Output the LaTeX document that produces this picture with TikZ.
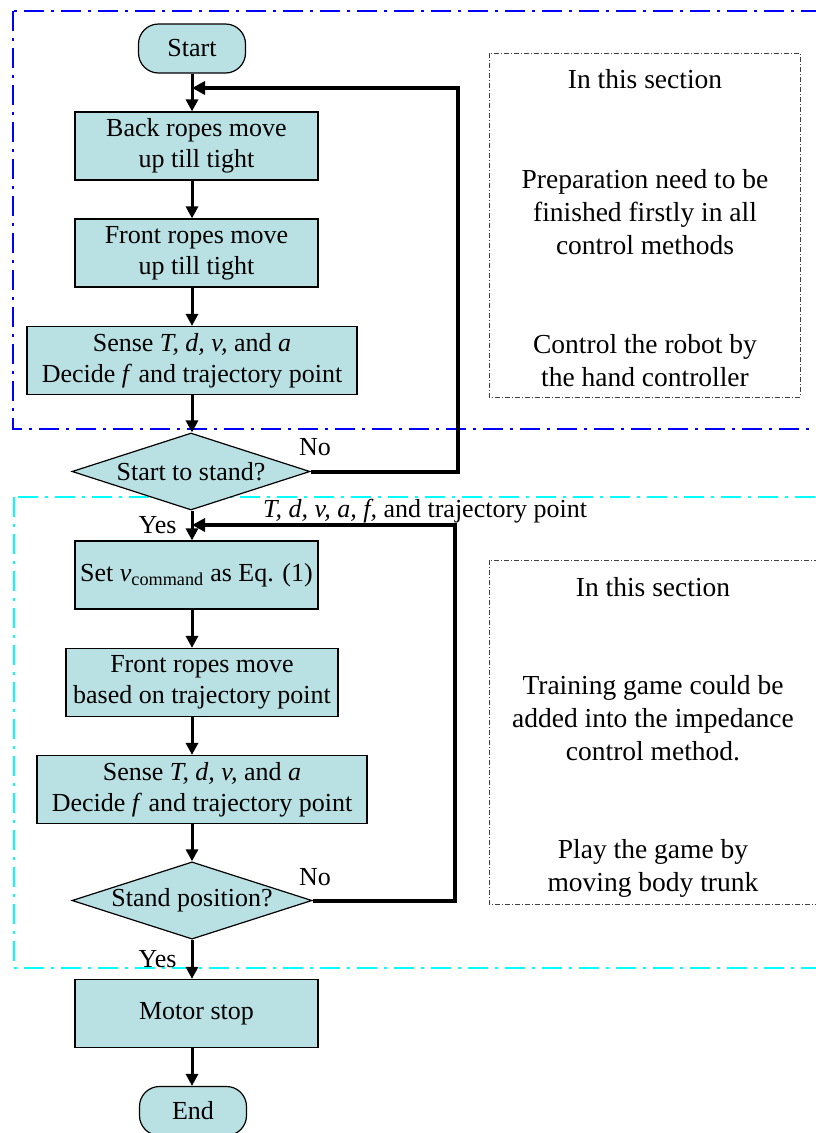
\documentclass[tikz,border=0pt]{standalone}
\usepackage{fontspec}
\setmainfont{Liberation Serif}
\usetikzlibrary{shapes.geometric,arrows.meta}
\definecolor{boxfill}{HTML}{B9E0E3}
\definecolor{cyanline}{RGB}{0,255,255}
\definecolor{blueline}{RGB}{0,0,255}
\begin{document}
\begin{tikzpicture}[x=1pt,y=-1pt,
    main/.style = {draw, line width=1.2pt, fill=boxfill, minimum width=243pt, minimum height=68pt, inner sep=2pt, align=center, font=\fontsize{26}{31}\selectfont},
    term/.style = {main, rounded corners=20pt, minimum width=107pt, minimum height=49pt},
    dec/.style = {draw, line width=1.2pt, fill=boxfill, diamond, aspect=3, inner sep=0pt, minimum width=238pt, minimum height=77pt, font=\fontsize{26}{31}\selectfont},
    flow/.style = {line width=3pt, -{Triangle[length=12pt,width=12pt]}},
    back/.style = {line width=4pt, -{Triangle[length=13pt,width=13pt]}},
    lab/.style = {inner sep=0pt, font=\fontsize{26}{31}\selectfont},
    note/.style = {draw=black!75, line width=1pt, dash pattern=on 5pt off 2pt on 1pt off 2pt},
    text_block/.style = {align=center, inner sep=0pt, font=\fontsize{27.5}{33}\selectfont}]
    \useasboundingbox (0,0) rectangle (816,1133);
    \draw[blueline, line width=2pt, dash pattern=on 20pt off 7pt on 3pt off 7pt] (13,11) rectangle (850,429);
    \draw[cyanline, line width=2pt, dash pattern=on 20pt off 7pt on 3pt off 7pt] (14,497) rectangle (850,968);
    \draw[note] (489,53) rectangle (800,397);
    \draw[note] (489,560) rectangle (850,904);
    \node[text_block] (t1) at (645,79) {In this section};
    \node[text_block] (t2) at (645,212) {Preparation need to be\\finished firstly in all\\control methods};
    \node[text_block] (t3) at (645,361) {Control the robot by\\the hand controller};
    \node[text_block] (t4) at (653,587) {In this section};
    \node[text_block] (t5) at (653,718) {Training game could be\\added into the impedance\\control method.};
    \node[text_block] (t6) at (653,868) {Play the game by\\moving body trunk};
    \coordinate (c) at (192,0);
    \node[term] (1) at (192,48.5) {Start};
    \node[main] (2) at (196.5,146) {Back ropes move\\up till tight};
    \node[main] (3) at (196.5,253) {Front ropes move\\up till tight};
    \node[main, minimum width=330pt] (4) at (192,360.5) {Sense \textit{T, d, v,} and \textit{a}\\Decide \textit{f} and trajectory point};
    \node[dec] (5) at (191,471.5) {Start to stand?};
    \node[main] (6) at (196.5,575) {Set \textit{v}\textsubscript{command} as Eq. (1)};
    \node[main, minimum width=272pt] (7) at (202,682.5) {Front ropes move\\based on trajectory point};
    \node[main, minimum width=330pt] (8) at (202,789.5) {Sense \textit{T, d, v,} and \textit{a}\\Decide \textit{f} and trajectory point};
    \node[dec, minimum width=240pt] (9) at (192,900.5) {Stand position?};
    \node[main] (10) at (196.5,1013.5) {Motor stop};
    \node[term] (11) at (193,1111) {End};
    \coordinate (r1) at (458,88);
    \coordinate (r2) at (455,525);
    \draw[flow] (c |- 1.south) -- (c |- 2.north);
    \draw[flow] (c |- 2.south) -- (c |- 3.north);
    \draw[flow] (c |- 3.south) -- (c |- 4.north);
    \draw[flow] (c |- 4.south) -- (c |- 5.north);
    \draw[flow] (c |- 5.south) -- node[lab, pos=0.5, left=14pt] (y1) {Yes} (c |- 6.north);
    \draw[flow] (c |- 6.south) -- (c |- 7.north);
    \draw[flow] (c |- 7.south) -- (c |- 8.north);
    \draw[flow] (c |- 8.south) -- (9.north);
    \draw[flow] (9.south) -- node[lab, pos=0.5, left=14pt] (y2) {Yes} (c |- 10.north);
    \draw[flow] (c |- 10.south) -- (c |- 11.north);
    \draw[back] (5.east) -| (r1) -- (c |- r1);
    \draw[back] (9.east) -| (r2) -- (c |- r2);
    \node[lab] (n1) at (315,447) {No};
    \node[lab] (n2) at (315,877) {No};
    \node[lab, anchor=west] (lbl) at (263,511) {\textit{T, d, v, a, f,} and trajectory point};
\end{tikzpicture}
\end{document}
